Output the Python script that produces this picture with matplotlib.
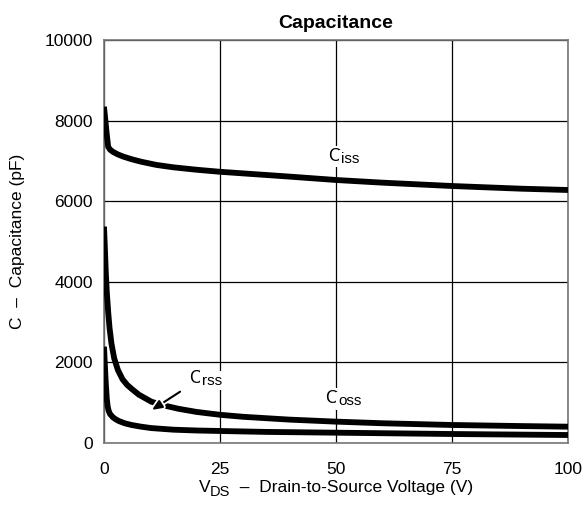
import matplotlib
matplotlib.use("Agg")
import matplotlib.pyplot as plt
import matplotlib.patheffects as pe

plt.rcParams['font.family'] = ['Liberation Sans', 'DejaVu Sans']

# Capacitance vs drain-source voltage (pF)
vds_iss = [0, 0.3, 0.6, 0.9, 1.3, 2, 3, 4.2, 6, 8, 11.3, 15, 20, 25, 30, 40, 50, 60, 75, 90, 100]
c_iss = [8345, 8000, 7650, 7350, 7280, 7220, 7160, 7105, 7040, 6980, 6900, 6840, 6780,
         6730, 6690, 6610, 6526, 6460, 6377, 6310, 6278]

vds_oss = [0, 0.2, 0.4, 0.6, 0.9, 1.2, 1.6, 2.2, 3.0, 4.0, 5.0, 6.0, 7.5, 10.2, 13, 16,
           20, 25, 30, 40, 50, 60, 75, 90, 100]
c_oss = [5370, 4800, 4200, 3750, 3250, 2850, 2470, 2100, 1810, 1580, 1440, 1340, 1200,
         1025, 930, 850, 770, 700, 650, 580, 530, 490, 447, 420, 405]

vds_rss = [0, 0.2, 0.4, 0.6, 0.8, 1.0, 1.3, 1.9, 2.5, 3.2, 4.5, 6, 8, 10.2, 15, 20, 25,
           35, 50, 75, 100]
c_rss = [2390, 1900, 1450, 1100, 900, 800, 720, 640, 590, 545, 488, 445, 405, 370, 330,
         310, 298, 275, 256, 223, 198]

x_ticks = [0, 25, 50, 75, 100]
y_ticks = [0, 2000, 4000, 6000, 8000, 10000]

DPI = 100
fig = plt.figure(figsize=(5.85, 5.25), dpi=DPI)
ax = fig.add_axes([104 / 585, 82 / 525, 464 / 585, 403 / 525])
renderer = fig.canvas.get_renderer()


def rich_text(x, y, parts, xycoords, ha='center', bbox=None, zorder=5):
    """Draw a run of text pieces (text, size, baseline shift in pt) side by side."""
    widths = []
    for txt, size, _ in parts:
        tmp = fig.text(0, 0, txt, fontsize=size)
        widths.append(tmp.get_window_extent(renderer).width * 72 / DPI)
        tmp.remove()
    total = sum(widths)
    x0 = {'center': -total / 2, 'left': 0, 'right': -total}[ha]
    for (txt, size, dy), w in zip(parts, widths):
        ax.annotate(txt, xy=(x, y), xycoords=xycoords, xytext=(x0, dy),
                    textcoords='offset points', ha='left', va='baseline',
                    fontsize=size, bbox=bbox, zorder=zorder, annotation_clip=False)
        x0 += w


ax.set_xlim(0, 100)
ax.set_ylim(0, 10000)
ax.set_xticks(x_ticks)
ax.set_yticks(y_ticks)
ax.grid(True, color='black', linewidth=0.9)
ax.set_axisbelow(True)
ax.tick_params(length=0, labelsize=12.5)
ax.tick_params(axis='x', pad=13.5)
ax.tick_params(axis='y', pad=8)
for s in ax.spines.values():
    s.set_color('#777777')
    s.set_linewidth(1.2)

line_kw = dict(color='black', linewidth=4.2, solid_joinstyle='round',
               solid_capstyle='butt', zorder=3)
ax.plot(vds_iss, c_iss, **line_kw)
ax.plot(vds_oss, c_oss, **line_kw)
ax.plot(vds_rss, c_rss, **line_kw)

box = dict(facecolor='white', edgecolor='none', pad=1.5)
rich_text(51.6, 7000, [('C', 13, 0), ('iss', 11, -1.5)], 'data', bbox=box, zorder=2)
rich_text(51.6, 990, [('C', 13, 0), ('oss', 11, -1.5)], 'data', bbox=box, zorder=2)
rich_text(22.0, 1500, [('C', 13, 0), ('rss', 11, -1.5)], 'data', bbox=box, zorder=2)

arr = ax.annotate('', xy=(10.3, 819), xytext=(16.4, 1273),
                  arrowprops=dict(arrowstyle='-|>,head_length=0.6,head_width=0.25',
                                  color='black', lw=1.5, shrinkA=0, shrinkB=0),
                  zorder=4)
arr.arrow_patch.set_path_effects([pe.withStroke(linewidth=4, foreground='white')])

ax.set_title('Capacitance', fontsize=14, fontweight='bold', pad=9)
ax.set_ylabel('C  –  Capacitance (pF)', fontsize=12.5, labelpad=14)

# x-axis label with a full-size subscript
rich_text(0.5, -0.122, [('V', 12.5, 0), ('DS', 10.5, -3),
                        ('  –  Drain-to-Source Voltage (V)', 12.5, 0)],
          'axes fraction')

fig.savefig('out.png', dpi=DPI)
